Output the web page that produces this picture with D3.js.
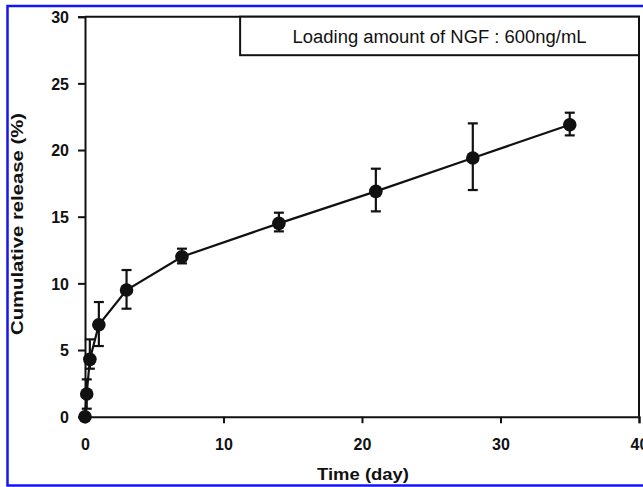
<!DOCTYPE html>
<html>
<head>
<meta charset="utf-8">
<script src="https://cdn.jsdelivr.net/npm/d3@7"></script>
<style>
  body { margin: 0; background: #fff; }
  svg text { font-family: Arial, "Liberation Sans", sans-serif; }
</style>
</head>
<body>
<svg id="chart" width="643" height="487"></svg>
<script>
'use strict'

// release data
const days = [0, 0.125, 0.35, 1, 3, 7, 14, 21, 28, 35]
const release = [0, 1.7, 4.3, 6.9, 9.5, 12.0, 14.5, 16.9, 19.4, 21.9]
const errUp = [0, 1.1, 1.5, 1.7, 1.5, 0.6, 0.8, 1.7, 2.6, 0.9]
const errDown = [0, 1.1, 0.7, 1.6, 1.4, 0.5, 0.6, 1.5, 2.4, 0.8]
const xTicks = [0, 10, 20, 30, 40]
const yTicks = [0, 5, 10, 15, 20, 25, 30]
const legendText = 'Loading amount of NGF : 600ng/mL'

const svg = d3.select('#chart')
const margin = { top: 16.7, left: 85, right: 4, bottom: 70.3 }
const width = 643 - margin.left - margin.right,
  height = 487 - margin.top - margin.bottom

// blue outer border
svg.append('rect')
  .attr('x', 7.5).attr('y', 6)
  .attr('width', 640).attr('height', 479.5)
  .attr('fill', 'none')
  .attr('stroke', '#1414f5')
  .attr('stroke-width', 2.5)

const x = d3.scaleLinear().domain([0, 40]).range([0, width])
const y = d3.scaleLinear().domain([0, 30]).range([height, 0])

const g = svg.append('g')
  .attr('transform', 'translate(' + margin.left + ',' + margin.top + ')')

// frame top / right
g.append('path')
  .attr('d', 'M0,0H' + width + 'V' + height)
  .attr('fill', 'none')
  .attr('stroke', '#111')
  .attr('stroke-width', 2)

const xAxis = g.append('g')
  .attr('transform', 'translate(0,' + height + ')')
  .call(d3.axisBottom(x).tickValues(xTicks).tickSize(6.5).tickPadding(15).tickFormat(d3.format('d')))

const yAxis = g.append('g')
  .call(d3.axisLeft(y).tickValues(yTicks).tickSize(7).tickPadding(9).tickFormat(d3.format('d')))

;[xAxis, yAxis].forEach(ax => {
  ax.select('.domain').attr('stroke', '#111').attr('stroke-width', 2)
  ax.selectAll('.tick line').attr('stroke', '#111').attr('stroke-width', 2)
  ax.selectAll('.tick text')
    .attr('fill', '#111')
    .style('font-size', '16px')
    .style('font-weight', 'bold')
})
yAxis.selectAll('.tick text').attr('dy', '0.36em')

// legend box
g.append('rect')
  .attr('x', x(11.2)).attr('y', 0)
  .attr('width', width - x(11.2)).attr('height', 38.5)
  .attr('fill', '#fff')
  .attr('stroke', '#111')
  .attr('stroke-width', 2)

g.append('text')
  .attr('x', (x(11.2) + width) / 2)
  .attr('y', 26.8)
  .attr('text-anchor', 'middle')
  .attr('textLength', 294)
  .attr('lengthAdjust', 'spacingAndGlyphs')
  .style('font-size', '18px')
  .attr('fill', '#111')
  .text(legendText)

// axis titles
svg.append('text')
  .attr('text-anchor', 'middle')
  .attr('transform', 'translate(23,224)rotate(-90)')
  .attr('textLength', 222)
  .attr('lengthAdjust', 'spacingAndGlyphs')
  .style('font-size', '17px')
  .style('font-weight', 'bold')
  .attr('fill', '#111')
  .text('Cumulative release (%)')

svg.append('text')
  .attr('text-anchor', 'middle')
  .attr('x', 363).attr('y', 480)
  .attr('textLength', 92)
  .attr('lengthAdjust', 'spacingAndGlyphs')
  .style('font-size', '17px')
  .style('font-weight', 'bold')
  .attr('fill', '#111')
  .text('Time (day)')

const pts = days.map((d, i) => ({ t: d, v: release[i], up: errUp[i], dn: errDown[i] }))

// error bars
const eb = g.selectAll('.err').data(pts.filter(d => d.up > 0)).enter().append('g')
  .attr('class', 'err')
  .attr('stroke', '#111')
  .attr('stroke-width', 2.2)
eb.append('line')
  .attr('x1', d => x(d.t)).attr('x2', d => x(d.t))
  .attr('y1', d => y(d.v + d.up)).attr('y2', d => y(d.v - d.dn))
eb.append('line')
  .attr('x1', d => x(d.t) - 5).attr('x2', d => x(d.t) + 5)
  .attr('y1', d => y(d.v + d.up)).attr('y2', d => y(d.v + d.up))
eb.append('line')
  .attr('x1', d => x(d.t) - 5).attr('x2', d => x(d.t) + 5)
  .attr('y1', d => y(d.v - d.dn)).attr('y2', d => y(d.v - d.dn))

// line
g.append('path')
  .datum(pts)
  .attr('fill', 'none')
  .attr('stroke', '#111')
  .attr('stroke-width', 2.2)
  .attr('d', d3.line().x(d => x(d.t)).y(d => y(d.v)))

// markers
g.selectAll('.dot').data(pts).enter().append('circle')
  .attr('class', 'dot')
  .attr('cx', d => x(d.t))
  .attr('cy', d => y(d.v))
  .attr('r', 6.8)
  .attr('fill', '#111')
</script>
</body>
</html>
